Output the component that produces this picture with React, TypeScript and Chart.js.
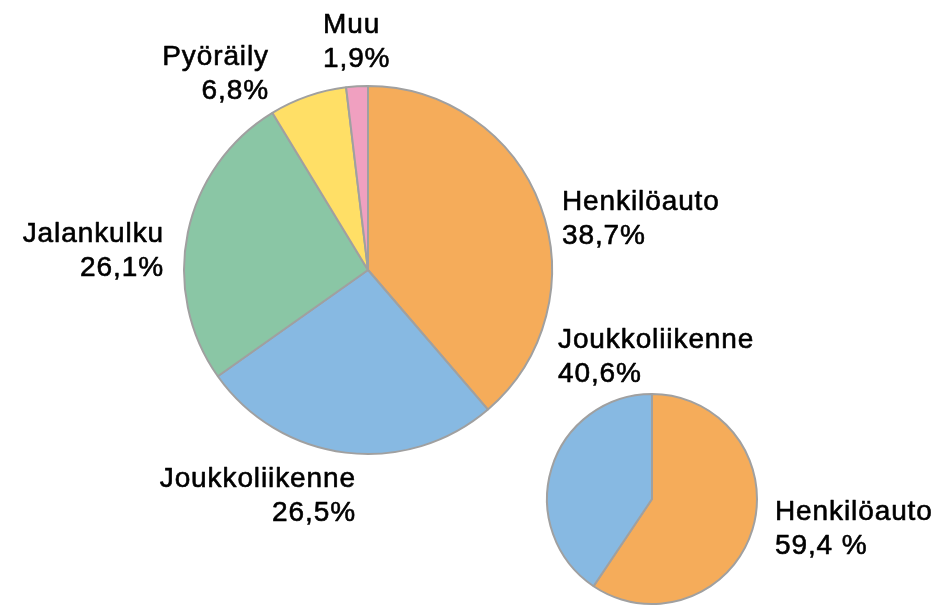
import React, { useEffect, useRef } from "react";
import { Chart, registerables } from "chart.js";

Chart.register(...registerables);

// Big pie: trips (%)
const bigCategories = ["Henkilöauto", "Joukkoliikenne", "Jalankulku", "Pyöräily", "Muu"];
const bigValues = [38.7, 26.5, 26.1, 6.8, 1.9];
const bigValueText = ["38,7%", "26,5%", "26,1%", "6,8%", "1,9%"];
const bigColors = ["#F5AC5A", "#87B9E2", "#8AC6A5", "#FFDF66", "#F0A0C0"];

// Small pie: motorised trips (%)
const smallCategories = ["Henkilöauto", "Joukkoliikenne"];
const smallValues = [59.4, 40.6];
const smallValueText = ["59,4 %", "40,6%"];
const smallColors = ["#F5AC5A", "#87B9E2"];

const FONT = "28px 'Liberation Sans', Arial, sans-serif";

type LabelPos = { x: number; y: number; align: CanvasTextAlign };

const bigLabelPos: LabelPos[] = [
  { x: 562, y: 210, align: "left" },
  { x: 356, y: 487, align: "right" },
  { x: 164, y: 242, align: "right" },
  { x: 269, y: 65, align: "right" },
  { x: 323, y: 33, align: "left" },
];
const smallLabelPos: LabelPos[] = [
  { x: 775, y: 520, align: "left" },
  { x: 558, y: 348, align: "left" },
];

function makeLabelPlugin(names: string[], texts: string[], pos: LabelPos[]) {
  return {
    id: "sliceLabels",
    afterDraw(chart: any) {
      const ctx = chart.ctx;
      ctx.save();
      ctx.font = FONT;
      try {
        (ctx as any).letterSpacing = "0.9px";
      } catch (e) {}
      ctx.fillStyle = "#000000";
      ctx.strokeStyle = "#000000";
      ctx.lineWidth = 0.6;
      ctx.lineJoin = "round";
      ctx.textBaseline = "alphabetic";
      names.forEach((n, i) => {
        const p = pos[i];
        ctx.textAlign = p.align;
        ctx.fillText(n, p.x, p.y);
        ctx.strokeText(n, p.x, p.y);
        ctx.fillText(texts[i], p.x, p.y + 34);
        ctx.strokeText(texts[i], p.x, p.y + 34);
      });
      ctx.restore();
    },
  };
}

export default function App() {
  const bigRef = useRef<HTMLCanvasElement>(null);
  const smallRef = useRef<HTMLCanvasElement>(null);

  useEffect(() => {
    const common = (padding: any) => ({
      responsive: false,
      animation: false as const,
      layout: { padding },
      plugins: { legend: { display: false }, tooltip: { enabled: false } },
    });

    const big = new Chart(bigRef.current!, {
      type: "pie",
      data: {
        labels: bigCategories,
        datasets: [
          {
            data: bigValues,
            backgroundColor: bigColors,
            borderColor: "#A0A0A0",
            borderWidth: 2,
          },
        ],
      },
      options: common({ left: 183, right: 383, top: 85, bottom: 151 }),
      plugins: [makeLabelPlugin(bigCategories, bigValueText, bigLabelPos)],
    });

    const small = new Chart(smallRef.current!, {
      type: "pie",
      data: {
        labels: smallCategories,
        datasets: [
          {
            data: smallValues,
            backgroundColor: smallColors,
            borderColor: "#A0A0A0",
            borderWidth: 2,
          },
        ],
      },
      options: common({ left: 546, right: 178, top: 393, bottom: 1 }),
      plugins: [makeLabelPlugin(smallCategories, smallValueText, smallLabelPos)],
    });

    return () => {
      big.destroy();
      small.destroy();
    };
  }, []);

  const canvasStyle: React.CSSProperties = {
    position: "absolute",
    left: 0,
    top: 0,
    width: 936,
    height: 606,
  };

  return (
    <div
      style={{
        position: "fixed",
        left: 0,
        top: 0,
        width: 936,
        height: 606,
        background: "#ffffff",
      }}
    >
      <canvas ref={bigRef} width={936} height={606} style={canvasStyle} />
      <canvas ref={smallRef} width={936} height={606} style={canvasStyle} />
    </div>
  );
}
